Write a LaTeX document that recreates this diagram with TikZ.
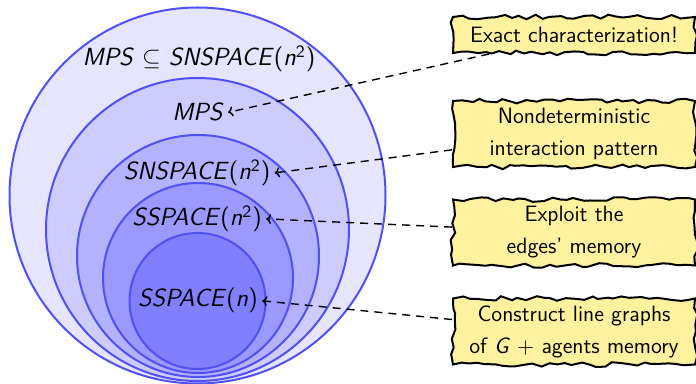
\documentclass[tikz,border=0pt]{standalone}
\usepackage{fontspec}
\usetikzlibrary{decorations.pathmorphing,arrows.meta}
\definecolor{notebg}{HTML}{FFF29E}
\definecolor{ringline}{HTML}{5050F5}
\newcommand{\cl}[1]{\textit{#1}}
\newcommand{\sq}{\textsuperscript{2}}
\begin{document}
\begin{tikzpicture}[x=0.5pt,y=-0.5pt,
  font=\fontsize{12.4}{15}\selectfont\sffamily,
  ring/.style={draw=ringline, line width=1pt},
  cls/.style={anchor=base, inner sep=2pt},
  note/.style={draw=black, line width=1pt, fill=notebg,
    decorate, decoration={random steps, segment length=4pt, amplitude=1.2pt},
    minimum width=121pt, align=center,
    font=\fontsize{11.1}{16}\selectfont\sffamily},
  conn/.style={dashed, dash pattern=on 4pt off 3pt, line width=0.7pt,
    -{To[length=2.5pt,width=5pt]}}]
  \useasboundingbox (0,0) rectangle (696,384);
  \clip (0,0) rectangle (696,384);

  % nested complexity classes
  \path[ring, fill=blue!10] (197.5,195.5) circle[radius=94pt];
  \path[ring, fill=blue!20] (197.5,229.5) circle[radius=75.75pt];
  \path[ring, fill=blue!30] (198,256) circle[radius=60.5pt];
  \path[ring, fill=blue!40] (198,278) circle[radius=47.5pt];
  \path[ring, fill=blue!50] (197.5,301) circle[radius=34pt];

  \node[cls] (top) at (199,66) {\cl{MPS} $\subseteq$ \cl{SNSPACE}(\cl{n}\sq)};
  \node[cls] (mps) at (198,121) {\cl{MPS}};
  \node[cls] (snsp) at (197,180) {\cl{SNSPACE}(\cl{n}\sq)};
  \node[cls] (ssq) at (197,226) {\cl{SSPACE}(\cl{n}\sq)};
  \node[cls] (ssn) at (198,307) {\cl{SSPACE}(\cl{n})};

  % remarks
  \node[note, minimum height=18pt] (n1) at (574,35) {Exact characterization!};
  \node[note, minimum height=33pt] (n2) at (574,134) {Nondeterministic\\interaction pattern};
  \node[note, minimum height=33pt] (n3) at (574,232.5) {Exploit the\\edges' memory};
  \node[note, minimum height=33pt] (n4) at (574,331.5) {Construct line graphs\\of \cl{G} $+$ agents memory};

  \draw[conn] (n1) -- (mps.east);
  \draw[conn] (n2) -- (snsp.east);
  \draw[conn] (n3) -- (ssq.east);
  \draw[conn] (n4) -- (ssn.east);
\end{tikzpicture}
\end{document}
